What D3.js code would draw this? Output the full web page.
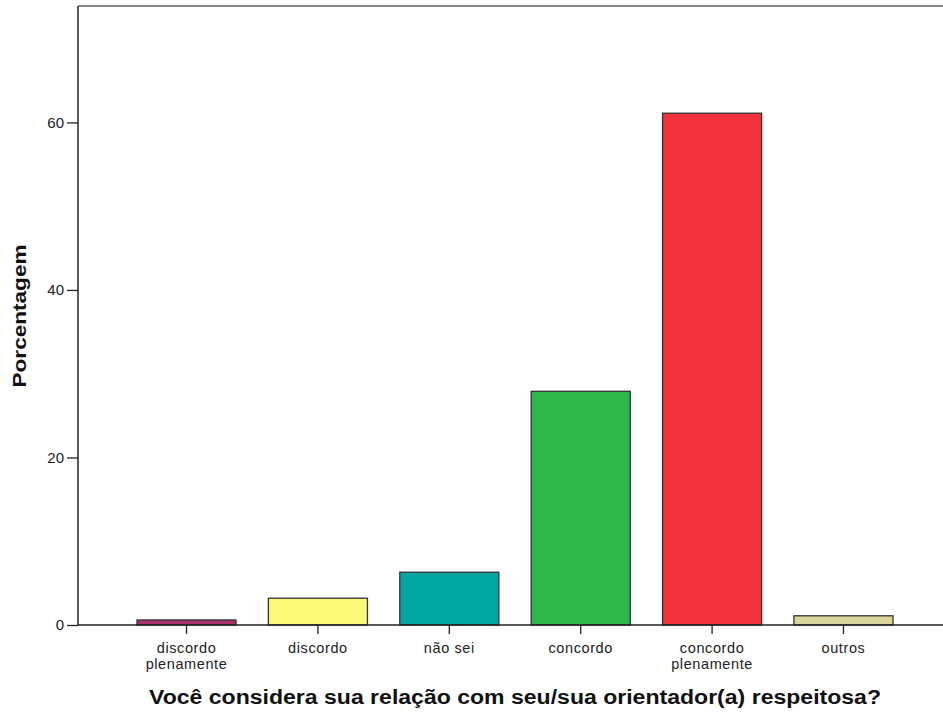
<!DOCTYPE html>
<html><head><meta charset="utf-8">
<script src="https://cdn.jsdelivr.net/npm/d3@7"></script>
<style>body{margin:0;background:#fff;} svg{display:block;}</style>
</head><body>
<svg id="c" width="943" height="715"></svg>
<script>
const categories = ["discordo plenamente","discordo","não sei","concordo","concordo plenamente","outros"];
const categoryLines = [["discordo","plenamente"],["discordo"],["não sei"],["concordo"],["concordo","plenamente"],["outros"]];
const values = [0.6, 3.2, 6.3, 27.9, 61.1, 1.1];
const colors = ["#a8306a","#fbf877","#00a6a2","#2eb84b","#f2333d","#d8d49a"];
const yTicks = [0, 20, 40, 60];
const yTitle = "Porcentagem";
const xTitle = "Você considera sua relação com seu/sua orientador(a) respeitosa?";

(function(){
const svg = d3.select("#c");
const pLeft = 78, pRight = 952, pTop = 6, pBottom = 625;
const font = "Liberation Sans, Arial, sans-serif";
const x = d3.scaleBand().domain(categories).range([pLeft, pRight]).paddingInner(0.246).paddingOuter(0.449);
const y = d3.scaleLinear().domain([0, 73.9]).range([pBottom, pTop]);

// frame top line
svg.append("line").attr("x1", pLeft).attr("x2", 943).attr("y1", pTop).attr("y2", pTop)
  .attr("stroke", "#8a8a8a").attr("stroke-width", 2);

// bars
svg.selectAll("rect.bar").data(values).join("rect")
  .attr("x", (d,i) => x(categories[i]))
  .attr("width", x.bandwidth())
  .attr("y", d => y(d))
  .attr("height", d => y(0) - y(d))
  .attr("fill", (d,i) => colors[i])
  .attr("stroke", "#333").attr("stroke-width", 1.3);

// y axis
const yAxis = d3.axisLeft(y).tickValues(yTicks).tickSize(11).tickPadding(3).tickFormat(d3.format("d"));
const ga = svg.append("g").attr("transform", `translate(${pLeft},0)`).call(yAxis);
ga.select(".domain").attr("d", `M0,${pTop}V${pBottom}`).attr("stroke", "#222").attr("stroke-width", 1.5);
ga.selectAll(".tick line").attr("stroke", "#222").attr("stroke-width", 1.3);
ga.selectAll(".tick text").attr("font-family", font).attr("font-size", 15).attr("fill", "#222");

// x axis
const xAxis = d3.axisBottom(x).tickSize(9).tickFormat("");
const gx = svg.append("g").attr("transform", `translate(0,${pBottom})`).call(xAxis);
gx.select(".domain").attr("d", `M${pLeft},0H943`).attr("stroke", "#222").attr("stroke-width", 1.5);
gx.selectAll(".tick line").attr("stroke", "#222").attr("stroke-width", 1.3);
gx.selectAll(".tick").each(function(d, i) {
  const g = d3.select(this);
  categoryLines[i].forEach((ln, k) => {
    g.append("text")
      .attr("font-family", font).attr("font-size", 14.5).attr("letter-spacing", 0.6)
      .attr("fill", "#222").attr("text-anchor", "middle")
      .attr("x", 0).attr("y", 28 + k * 16).text(ln);
  });
});

// titles
svg.append("text").attr("x", 515).attr("y", 704).attr("text-anchor", "middle")
  .attr("font-family", font).attr("font-weight", "bold")
  .attr("font-size", 20).attr("textLength", 732).attr("lengthAdjust", "spacingAndGlyphs")
  .attr("fill", "#111").text(xTitle);
svg.append("text").attr("transform", "translate(26,316) rotate(-90)").attr("text-anchor", "middle")
  .attr("font-family", font).attr("font-weight", "bold")
  .attr("font-size", 19).attr("textLength", 143).attr("lengthAdjust", "spacingAndGlyphs")
  .attr("fill", "#111").text(yTitle);
})();
</script>
</body></html>
